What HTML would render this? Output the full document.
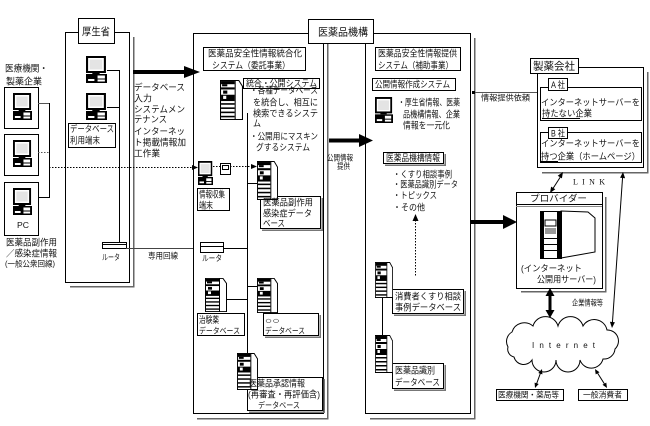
<!DOCTYPE html>
<html><head><meta charset="utf-8">
<style>
html,body{margin:0;padding:0;background:#fff;}
svg{display:block;}
text{font-family:"Liberation Sans","Noto Sans CJK JP",sans-serif;font-size:9px;fill:#111;}
.b{font-size:10.5px;}
.s{font-size:8px;}
</style></head><body>
<svg width="650" height="426" viewBox="0 0 650 426" xmlns="http://www.w3.org/2000/svg">
<defs>
<symbol id="pc" viewBox="0 0 20 27" preserveAspectRatio="none">
 <rect x="1" y="1" width="17" height="15" fill="#fff" stroke="#000" stroke-width="2"/>
 <rect x="3.5" y="3.5" width="12" height="10" fill="#e4e4e4"/>
 <rect x="6" y="16" width="7" height="2" fill="#000"/>
 <rect x="0" y="18" width="20" height="9" fill="#000"/>
 <rect x="11" y="19.5" width="7" height="3" fill="#fff"/>
 <rect x="2" y="23" width="6" height="2" fill="#fff"/>
 <rect x="11" y="23.5" width="7" height="2" fill="#fff"/>
</symbol>
<symbol id="srv" viewBox="0 0 22 38" preserveAspectRatio="none">
 <polygon points="14,0.5 18,0.5 21.5,6 21.5,37.5 14,37.5" fill="#fff" stroke="#000"/>
 <rect x="0.5" y="0.5" width="14" height="37" fill="#fff" stroke="#000"/>
 <rect x="1" y="1" width="13" height="3" fill="#000"/>
 <rect x="2" y="4" width="5" height="2" fill="#000"/>
 <rect x="1" y="7" width="13" height="2" fill="#000"/>
 <rect x="3" y="10" width="4" height="3" fill="#000"/>
 <rect x="1" y="14" width="13" height="6" fill="#000"/>
 <rect x="3" y="15" width="3" height="3" fill="#fff"/>
 <rect x="1" y="22" width="13" height="1.5" fill="#000"/>
 <rect x="1" y="26" width="13" height="1.5" fill="#000"/>
 <rect x="1" y="30" width="13" height="1.5" fill="#000"/>
 <rect x="1" y="34" width="13" height="1.5" fill="#000"/>
</symbol>
</defs>

<g fill="none" stroke="#000" stroke-width="1" shape-rendering="crispEdges">
 <rect x="4.5" y="87.5" width="34" height="41"/>
 <rect x="4.5" y="134.5" width="34" height="41"/>
 <rect x="4.5" y="182.5" width="34" height="53"/>
 <line x1="38" y1="103.5" x2="49" y2="103.5" stroke="#555"/>
 <line x1="38" y1="152.5" x2="49" y2="152.5" stroke="#555" stroke-dasharray="1.5 1.5"/>
 <line x1="38" y1="197.5" x2="49" y2="197.5"/>
 <line x1="49.5" y1="103" x2="49.5" y2="198"/>

 <rect x="65.5" y="32.5" width="64" height="250" fill="#fff"/>
 <polyline points="133.5,37 133.5,286.5 70,286.5" stroke="#666" stroke-width="1.5"/>
 <rect x="78.5" y="18.5" width="36" height="25" fill="#fff"/>
 <rect x="68.5" y="123.5" width="47" height="24"/>
 <line x1="107" y1="70.5" x2="119" y2="70.5"/>
 <line x1="107" y1="107.5" x2="119" y2="107.5"/>
 <line x1="119.5" y1="70" x2="119.5" y2="242"/>
 <rect x="102.5" y="242.5" width="24" height="6" fill="#fff"/>
 <line x1="102" y1="244.5" x2="126" y2="244.5"/>
 <line x1="126" y1="248.5" x2="200" y2="248.5" stroke="#444"/>

 <line x1="49" y1="167.5" x2="194" y2="167.5" stroke-dasharray="1.5 1.5"/>

 <rect x="193.5" y="33.5" width="130" height="380" fill="#fff"/>
 <polyline points="327.5,38 327.5,418.5 197,418.5" stroke="#666" stroke-width="1.5"/>
 <rect x="365.5" y="33.5" width="105" height="380" fill="#fff"/>
 <polyline points="474.5,38 474.5,418.5 370,418.5" stroke="#666" stroke-width="1.5"/>
 <rect x="308.5" y="19.5" width="65" height="24" fill="#fff"/>

 <rect x="203.5" y="47.5" width="102" height="23"/>
 <rect x="243.5" y="78.5" width="76" height="10"/>
 <line x1="247.5" y1="113" x2="247.5" y2="353"/>
 <line x1="247" y1="183.5" x2="257" y2="183.5"/>
 <line x1="227" y1="299.5" x2="247" y2="299.5"/>
 <line x1="247" y1="286.5" x2="257" y2="286.5"/>
 <line x1="223" y1="248.5" x2="247" y2="248.5"/>
 <rect x="197.5" y="188.5" width="32" height="22"/>
 <polyline points="322,198 322,230 262,230" stroke="#777" stroke-width="1.5"/>
 <rect x="260.5" y="196.5" width="60" height="32" fill="#fff"/>
 <rect x="200.5" y="242.5" width="23" height="10" fill="#fff"/>
 <line x1="200" y1="246.5" x2="223" y2="246.5"/>
 <rect x="197.5" y="313.5" width="47" height="22" fill="#fff"/>
 <polyline points="320,315 320,337 265,337" stroke="#777" stroke-width="1.5"/>
 <rect x="263.5" y="313.5" width="55" height="22" fill="#fff"/>
 <polyline points="324,379 324,412 249,412" stroke="#777" stroke-width="1.5"/>
 <rect x="247.5" y="377.5" width="75" height="33" fill="#fff"/>
 <rect x="220.5" y="163.5" width="10" height="11" fill="#fff"/>
 <rect x="222.5" y="165.5" width="6" height="4"/>
 <line x1="213" y1="166.5" x2="220" y2="166.5" stroke-dasharray="1.5 1.5"/>
 <line x1="230" y1="166.5" x2="253" y2="166.5" stroke-dasharray="1.5 1.5"/>

 <rect x="375.5" y="47.5" width="85" height="23"/>
 <rect x="372.5" y="78.5" width="83" height="12"/>
 <polyline points="445,154 445,165 385,165" stroke="#777" stroke-width="1.5"/>
 <rect x="383.5" y="152.5" width="60" height="11" fill="#fff"/>
 <line x1="415.5" y1="220" x2="415.5" y2="276" stroke-dasharray="1.5 1.5"/>
 <line x1="382.5" y1="298" x2="382.5" y2="335"/>
 <polyline points="465,291 465,315 394,315" stroke="#777" stroke-width="1.5"/>
 <rect x="392.5" y="289.5" width="71" height="24" fill="#fff"/>
 <polyline points="445,365 445,390 394,390" stroke="#777" stroke-width="1.5"/>
 <rect x="392.5" y="363.5" width="51" height="25" fill="#fff"/>

 <line x1="473" y1="92.5" x2="537" y2="92.5" stroke="#555"/>

 <rect x="537.5" y="67.5" width="106" height="100" fill="#fff"/>
 <polyline points="647.5,72 647.5,172.5 542,172.5" stroke="#666" stroke-width="1.5"/>
 <rect x="530.5" y="58.5" width="48" height="15" fill="#fff"/>
 <rect x="540.5" y="87.5" width="101" height="33"/>
 <rect x="548.5" y="78.5" width="19" height="12" fill="#fff"/>
 <rect x="540.5" y="132.5" width="101" height="30"/>
 <rect x="548.5" y="127.5" width="19" height="11" fill="#fff"/>
 <line x1="542" y1="118.5" x2="580" y2="118.5"/>
 <line x1="541" y1="161.5" x2="558" y2="161.5"/>

 <polyline points="605.5,197 605.5,291.5 521,291.5" stroke="#666" stroke-width="1.5"/>
 <rect x="516.5" y="192.5" width="86" height="96" fill="#fff"/>
 <line x1="516" y1="204.5" x2="602" y2="204.5"/>
 <line x1="516" y1="206.5" x2="602" y2="206.5" stroke="#888"/>

 <rect x="496.5" y="389.5" width="67" height="11"/>
 <rect x="578.5" y="389.5" width="49" height="11"/>
</g>

<use href="#pc" x="13" y="93" width="19" height="27"/>
<use href="#pc" x="13" y="140" width="19" height="27"/>
<use href="#pc" x="13" y="188" width="19" height="27"/>
<use href="#pc" x="86" y="56" width="21" height="27"/>
<use href="#pc" x="86" y="93" width="21" height="27"/>
<use href="#pc" x="198" y="161" width="15" height="24"/>
<use href="#pc" x="375" y="97" width="18" height="26"/>
<use href="#srv" x="220" y="80" width="23" height="40"/>
<use href="#srv" x="257" y="161" width="21" height="39"/>
<use href="#srv" x="205" y="278" width="22" height="34"/>
<use href="#srv" x="257" y="278" width="21" height="35"/>
<use href="#srv" x="237" y="353" width="21" height="37"/>
<use href="#srv" x="375" y="262" width="18" height="36"/>
<use href="#srv" x="375" y="335" width="18" height="38"/>

<g stroke="#000" stroke-width="1">
 <polygon points="561,211 588,212 595,218 595,252 561,258" fill="#fff"/>
 <rect x="540.5" y="211.5" width="21" height="47" fill="#fff"/>
 <rect x="540" y="211" width="4" height="48" fill="#000" stroke="none"/>
 <rect x="557" y="211" width="4" height="48" fill="#000" stroke="none"/>
 <rect x="545" y="220" width="11" height="6" fill="#fff"/>
 <rect x="545" y="228" width="11" height="6" fill="#999" stroke="none"/>
 <line x1="544" y1="238.5" x2="557" y2="238.5"/>
 <line x1="544" y1="244.5" x2="557" y2="244.5"/>
 <line x1="544" y1="250.5" x2="557" y2="250.5"/>
</g>

<path d="M508,347 A11,11 0 0 1 512,332 A13,13 0 0 1 533,326 A13,13 0 0 1 558,326 A13,13 0 0 1 583,326 A13,13 0 0 1 607,330 A11,11 0 0 1 615,349 A11,11 0 0 1 603,359 A12,12 0 0 1 580,360 A12,12 0 0 1 556,360 A12,12 0 0 1 532,360 A10,10 0 0 1 514,357 A8,8 0 0 1 508,347 Z" fill="#fff" stroke="#000" stroke-width="1"/>

<g fill="#000">
 <polygon points="133,70 184,70 184,66 200,72 184,78 184,74 133,74"/>
 <polygon points="329,138.5 359,138.5 359,134 373,140.5 359,147 359,142.5 329,142.5"/>
 <polygon points="471,220 503,220 503,215 517,222 503,229 503,224 471,224"/>
 <rect x="548.5" y="294" width="3" height="19"/>
 <polygon points="545.5,296 550,288 554.5,296"/>
 <polygon points="545.5,310 550,318 554.5,310"/>
 <polygon points="192,165 198,167.5 192,170"/>
 <polygon points="251,164 257,166.5 251,169"/>
 <polygon points="412.5,221 415.5,214 418.5,221"/>
 <rect x="472" y="91" width="3" height="3"/>
 <polygon points="563,172 561.9,178.4 557.7,175.8"/>
 <polygon points="550,193 555.3,189.2 551.1,186.6"/>
 <polygon points="623,172 625.1,178.2 620.1,177.8"/>
 <polygon points="612,328 614.9,322.2 609.9,321.8"/>
 <polygon points="535,388 538.7,384 534.6,382.6"/>
 <polygon points="542,369 542.4,374.4 538.3,373"/>
 <polygon points="607,388 606.3,382.6 602.5,384.8"/>
 <polygon points="595,369 599.5,372.2 595.7,374.4"/>
</g>
<g stroke="#000" stroke-width="1" fill="none">
 <line x1="561" y1="176" x2="552" y2="190"/>
 <line x1="622.6" y1="177" x2="612.4" y2="323"/>
 <line x1="540.5" y1="373" x2="536.5" y2="384"/>
 <line x1="597.5" y1="373" x2="604.5" y2="384"/>
</g>

<text x="5" y="71.5" textLength="43" lengthAdjust="spacingAndGlyphs">医療機関・</text>
<text x="6" y="84.5" textLength="36" lengthAdjust="spacingAndGlyphs">製薬企業</text>
<text x="17" y="228" class="s" textLength="12" lengthAdjust="spacingAndGlyphs">PC</text>
<text x="6" y="245.5" textLength="51" lengthAdjust="spacingAndGlyphs">医薬品副作用</text>
<text x="6" y="256.5" textLength="51" lengthAdjust="spacingAndGlyphs">／感染症情報</text>
<text x="5" y="266.5" class="s" textLength="50" lengthAdjust="spacingAndGlyphs">(一般公衆回線)</text>

<text x="82" y="35" class="b" textLength="28" lengthAdjust="spacingAndGlyphs">厚生省</text>
<text x="70" y="132" textLength="44" lengthAdjust="spacingAndGlyphs">データベース</text>
<text x="70" y="143.5" textLength="30" lengthAdjust="spacingAndGlyphs">利用端末</text>
<text x="102" y="260" class="s" textLength="18" lengthAdjust="spacingAndGlyphs">ルータ</text>
<text x="148" y="258.5" class="s" textLength="30" lengthAdjust="spacingAndGlyphs">専用回線</text>

<text x="134" y="90.5" textLength="51" lengthAdjust="spacingAndGlyphs">データベース</text>
<text x="134" y="101.5" textLength="18" lengthAdjust="spacingAndGlyphs">入力</text>
<text x="134" y="112.5" textLength="51" lengthAdjust="spacingAndGlyphs">システムメン</text>
<text x="134" y="122.5" textLength="33" lengthAdjust="spacingAndGlyphs">テナンス</text>
<text x="134" y="134.5" textLength="51" lengthAdjust="spacingAndGlyphs">インターネッ</text>
<text x="134" y="145.5" textLength="52" lengthAdjust="spacingAndGlyphs">ト掲載情報加</text>
<text x="134" y="156.5" textLength="26" lengthAdjust="spacingAndGlyphs">工作業</text>

<text x="318" y="35.5" class="b" textLength="50" lengthAdjust="spacingAndGlyphs">医薬品機構</text>
<text x="208" y="56.5" textLength="94" lengthAdjust="spacingAndGlyphs">医薬品安全性情報統合化</text>
<text x="212" y="68.5" textLength="78" lengthAdjust="spacingAndGlyphs">システム（委託事業）</text>
<text x="246" y="86.5" textLength="71" lengthAdjust="spacingAndGlyphs">統合・公開システム</text>
<text x="250" y="93.5" textLength="68" lengthAdjust="spacingAndGlyphs">・各種データベース</text>
<text x="253" y="105.5" textLength="65" lengthAdjust="spacingAndGlyphs">を統合し、相互に</text>
<text x="253" y="116.5" textLength="65" lengthAdjust="spacingAndGlyphs">検索できるシステ</text>
<text x="253" y="126.5" textLength="8" lengthAdjust="spacingAndGlyphs">ム</text>
<text x="250" y="139.5" textLength="68" lengthAdjust="spacingAndGlyphs">・公開用にマスキン</text>
<text x="256" y="150.5" textLength="54" lengthAdjust="spacingAndGlyphs">グするシステム</text>
<text x="199" y="197.5" textLength="26" lengthAdjust="spacingAndGlyphs">情報収集</text>
<text x="199" y="208.5" textLength="14" lengthAdjust="spacingAndGlyphs">端末</text>
<text x="263" y="205.5" textLength="50" lengthAdjust="spacingAndGlyphs">医薬品副作用</text>
<text x="263" y="216.5" textLength="49" lengthAdjust="spacingAndGlyphs">感染症データ</text>
<text x="263" y="226.5" textLength="22" lengthAdjust="spacingAndGlyphs">ベース</text>
<text x="202" y="261" class="s" textLength="20" lengthAdjust="spacingAndGlyphs">ルータ</text>
<text x="199" y="323" textLength="20" lengthAdjust="spacingAndGlyphs">治験薬</text>
<text x="199" y="333.5" class="s" textLength="41" lengthAdjust="spacingAndGlyphs">データベース</text>
<text x="265" y="323.5" textLength="15" lengthAdjust="spacingAndGlyphs">○○</text>
<text x="265" y="333.5" class="s" textLength="40" lengthAdjust="spacingAndGlyphs">データベース</text>
<text x="249" y="386.5" textLength="56" lengthAdjust="spacingAndGlyphs">医薬品承認情報</text>
<text x="248" y="397.5" textLength="72" lengthAdjust="spacingAndGlyphs">(再審査・再評価含)</text>
<text x="258" y="408" class="s" textLength="42" lengthAdjust="spacingAndGlyphs">データベース</text>
<text x="327" y="160.5" class="s" textLength="26" lengthAdjust="spacingAndGlyphs">公開情報</text>
<text x="337" y="169" class="s" textLength="13" lengthAdjust="spacingAndGlyphs">提供</text>

<text x="378" y="56.5" textLength="79" lengthAdjust="spacingAndGlyphs">医薬品安全性情報提供</text>
<text x="378" y="68.5" textLength="75" lengthAdjust="spacingAndGlyphs">システム（補助事業）</text>
<text x="375" y="87.5" textLength="75" lengthAdjust="spacingAndGlyphs">公開情報作成システム</text>
<text x="398" y="105.5" textLength="62" lengthAdjust="spacingAndGlyphs">・厚生省情報、医薬</text>
<text x="403" y="117.5" textLength="57" lengthAdjust="spacingAndGlyphs">品機構情報、企業</text>
<text x="403" y="128.5" textLength="47" lengthAdjust="spacingAndGlyphs">情報を一元化</text>
<text x="386" y="161" textLength="54" lengthAdjust="spacingAndGlyphs">医薬品機構情報</text>
<text x="393" y="177.5" textLength="59" lengthAdjust="spacingAndGlyphs">・くすり相談事例</text>
<text x="393" y="187.5" textLength="65" lengthAdjust="spacingAndGlyphs">・医薬品識別データ</text>
<text x="393" y="198.5" textLength="44" lengthAdjust="spacingAndGlyphs">・トピックス</text>
<text x="393" y="210.5" textLength="32" lengthAdjust="spacingAndGlyphs">・その他</text>
<text x="395" y="299.5" textLength="66" lengthAdjust="spacingAndGlyphs">消費者くすり相談</text>
<text x="395" y="310.5" textLength="66" lengthAdjust="spacingAndGlyphs">事例データベース</text>
<text x="395" y="373.5" textLength="40" lengthAdjust="spacingAndGlyphs">医薬品識別</text>
<text x="395" y="385.5" textLength="45" lengthAdjust="spacingAndGlyphs">データベース</text>

<text x="481" y="100.5" class="s" textLength="49" lengthAdjust="spacingAndGlyphs">情報提供依頼</text>
<text x="533" y="69.5" class="b" textLength="42" lengthAdjust="spacingAndGlyphs">製薬会社</text>
<text x="551" y="88" textLength="14" lengthAdjust="spacingAndGlyphs">A 社</text>
<text x="541" y="105.5" textLength="99" lengthAdjust="spacingAndGlyphs">インターネットサーバーを</text>
<text x="542" y="116.5" textLength="50" lengthAdjust="spacingAndGlyphs">持たない企業</text>
<text x="551" y="136.5" textLength="14" lengthAdjust="spacingAndGlyphs">B 社</text>
<text x="541" y="146.5" textLength="99" lengthAdjust="spacingAndGlyphs">インターネットサーバーを</text>
<text x="541" y="159.5" textLength="99" lengthAdjust="spacingAndGlyphs">持つ企業（ホームページ）</text>
<text x="573" y="184.5" class="s" textLength="32" lengthAdjust="spacing" style="font-family:'Liberation Serif',serif">LINK</text>
<text x="530" y="201.5" textLength="57" lengthAdjust="spacingAndGlyphs">プロバイダー</text>
<text x="521" y="271.5" textLength="61" lengthAdjust="spacingAndGlyphs">(インターネット</text>
<text x="537" y="282.5" textLength="59" lengthAdjust="spacingAndGlyphs">公開用サーバー)</text>
<text x="572" y="305.5" class="s" textLength="31" lengthAdjust="spacingAndGlyphs">企業情報等</text>
<text x="532" y="348" class="s" textLength="63" lengthAdjust="spacing">Internet</text>
<text x="498" y="397.5" class="s" textLength="61" lengthAdjust="spacingAndGlyphs">医療機関・薬局等</text>
<text x="583" y="397.5" class="s" textLength="39" lengthAdjust="spacingAndGlyphs">一般消費者</text>
</svg>
</body></html>
